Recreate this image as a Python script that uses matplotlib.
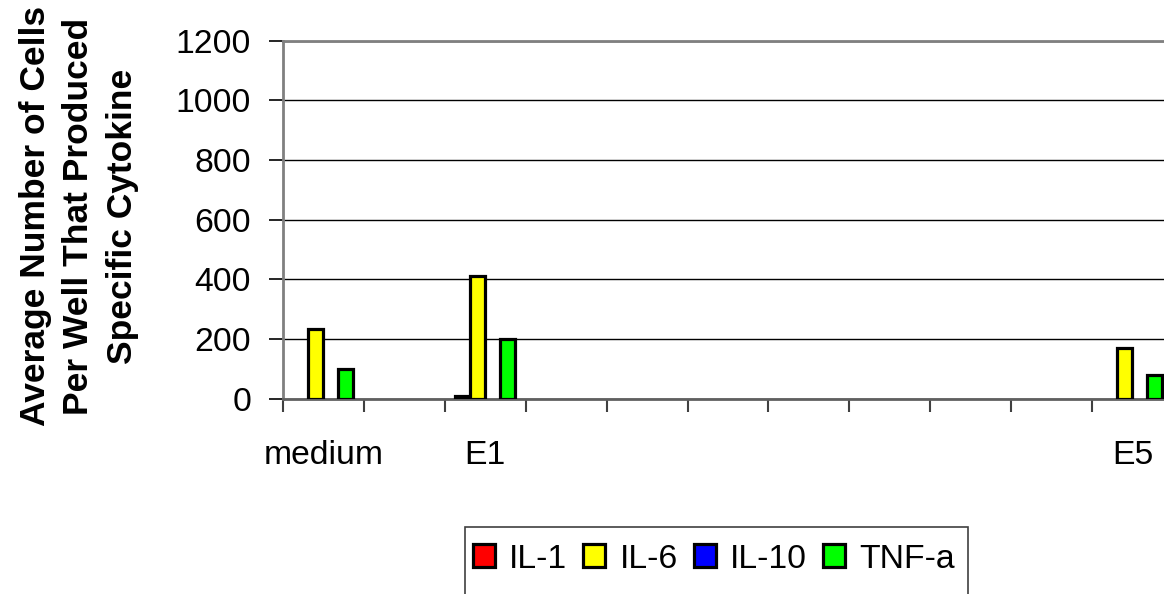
import matplotlib
matplotlib.use("Agg")
import matplotlib.pyplot as plt
from matplotlib.patches import Rectangle
import numpy as np

categories = ["medium", "", "E1", "", "", "", "", "", "", "", "E5"]
series_names = ["IL-1", "IL-6", "IL-10", "TNF-a"]
il1 = [0, 0, 10, 0, 0, 0, 0, 0, 0, 0, 0]
il6 = [235, 0, 410, 0, 0, 0, 0, 0, 0, 0, 170]
il10 = [0, 0, 0, 0, 0, 0, 0, 0, 0, 0, 0]
tnfa = [100, 0, 200, 0, 0, 0, 0, 0, 0, 0, 80]
colors = ["#FF0000", "#FFFF00", "#0000FF", "#00FF00"]
yticks = [0, 200, 400, 600, 800, 1000, 1200]

plt.rcParams['font.family'] = ['Liberation Sans', 'DejaVu Sans']
FS = 24.3

fig = plt.figure(figsize=(11.64, 5.94), dpi=100)
W, H = 1164, 594
left, right, top, bottom = 283, 283 + 11 * 80.9, 40.7, 398.7
ax = fig.add_axes([left / W, 1 - bottom / H, (right - left) / W, (bottom - top) / H])

x = np.arange(len(categories))
bw = 15 / 80.9
data = [il1, il6, il10, tnfa]
handles = []
for i, (name, vals, c) in enumerate(zip(series_names, data, colors)):
    v = np.array(vals, dtype=float)
    v[v == 0] = np.nan
    b = ax.bar(x + (i - 1.5) * bw, v, width=bw, color=c, edgecolor="black",
               linewidth=2.3, label=name, zorder=3)
    handles.append(b)

ax.set_xlim(-0.5, len(categories) - 0.5)
ax.set_ylim(0, 1200)
ax.set_yticks(yticks)
ax.set_yticklabels([str(t) for t in yticks], fontsize=FS)
ax.set_xticks(np.arange(len(categories) + 1) - 0.5, minor=False)
ax.set_xticklabels([])
ax.set_xticks(x, minor=True)
ax.set_xticklabels(categories, minor=True, fontsize=FS)
ax.tick_params(axis='x', which='minor', length=0, pad=30)
ax.tick_params(axis='x', which='major', length=9, width=1.5, color="#404040")
ax.tick_params(axis='y', length=10, width=1.2, color="black", pad=13)

ax.yaxis.grid(True, color="black", linewidth=1.0)
ax.set_axisbelow(True)
for s in ["left", "top"]:
    ax.spines[s].set_color("#808080")
    ax.spines[s].set_linewidth(2)
ax.spines["bottom"].set_color("#606060")
ax.spines["bottom"].set_linewidth(2)
ax.spines["right"].set_visible(False)

fig.text(79 / W, 1 - 216 / H,
         "Average Number of Cells\nPer Well That Produced\nSpecific Cytokine",
         fontsize=25.5, fontweight="bold", rotation=90, ha="center", va="center",
         multialignment="center", linespacing=1.42)

# legend frame (extends past the bottom edge as in the reference)
fig.patches.append(Rectangle((465 / W, -0.05), (968 - 465) / W, (1 - 527 / H) + 0.05,
                             transform=fig.transFigure, facecolor="white",
                             edgecolor="#404040", linewidth=1.2, zorder=1))
leg = fig.legend(handles=handles, labels=series_names, loc="center",
                 bbox_to_anchor=(714 / W, 1 - 559 / H), ncol=4, fontsize=FS,
                 frameon=False, handlelength=0.65, handleheight=0.65,
                 handletextpad=0.42, columnspacing=0.48, borderpad=0.2)
leg.set_zorder(2)

fig.savefig("out.png", dpi=100)
